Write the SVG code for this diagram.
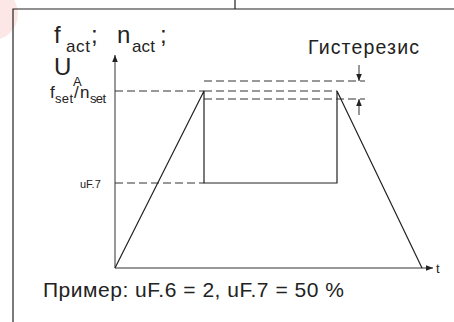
<svg xmlns="http://www.w3.org/2000/svg" width="454" height="322" viewBox="0 0 454 322">
<defs>
<style>
.ln{stroke:#222;stroke-width:1.2;fill:none}
.ax{stroke:#333;stroke-width:1;fill:none}
.da{stroke:#333;stroke-width:1;fill:none;stroke-dasharray:8 4}
.tx{font-family:"Liberation Sans",Arial,sans-serif;fill:#222}
</style>
<marker id="ah" viewBox="0 0 10 10" refX="10" refY="5" markerWidth="7" markerHeight="7" markerUnits="userSpaceOnUse" orient="auto">
<path d="M0,1 L10,5 L0,9 z" fill="#222"/>
</marker>
</defs>
<rect width="454" height="322" fill="#fff"/>
<circle cx="-8" cy="14" r="26" fill="#fde6e6"/>
<g id="frame">
<path class="ln" d="M13,322 V9 H454 M235,0 V9"/>
</g>
<g id="axes">
<line class="ax" x1="115" y1="268" x2="115" y2="55" marker-end="url(#ah)"/>
<line class="ax" x1="115" y1="268" x2="433" y2="268" marker-end="url(#ah)"/>
</g>
<g id="connectors">
<path class="da" d="M115,91 H204"/>
<path class="da" d="M204,91 H337"/>
<path class="da" d="M115,183 H204"/>
<path class="da" d="M204,81 H365"/>
<path class="da" d="M204,99 H365"/>
<path class="ln" d="M115,268 L204,91 V183 H337 V91 L422,268"/>
<line class="ax" x1="359" y1="65" x2="359" y2="81" marker-end="url(#ah)"/>
<line class="ax" x1="359" y1="115" x2="359" y2="99" marker-end="url(#ah)"/>
</g>
<g id="labels">
<text class="tx" font-size="24"><tspan x="54" y="43">f</tspan><tspan x="66" y="52" font-size="17" textLength="24" lengthAdjust="spacing">act</tspan><tspan x="91" y="43">;</tspan></text>
<text class="tx" font-size="24"><tspan x="117" y="43">n</tspan><tspan x="132" y="52" font-size="17" textLength="23" lengthAdjust="spacing">act</tspan><tspan x="160" y="43">;</tspan></text>
<text class="tx" font-size="24"><tspan x="54" y="75">U</tspan><tspan x="73" y="86" font-size="13">A</tspan></text>
<text class="tx" font-size="17"><tspan x="50" y="98">f</tspan><tspan x="55" y="103" font-size="13" textLength="18" lengthAdjust="spacing">set</tspan><tspan x="74" y="98">/</tspan><tspan x="80" y="98">n</tspan><tspan x="90" y="103" font-size="13" textLength="16" lengthAdjust="spacing">set</tspan></text>
<text class="tx" x="80" y="188" font-size="11">uF.7</text>
<text class="tx" x="308" y="54" font-size="19.5" textLength="111" lengthAdjust="spacing">Гистерезис</text>
<text class="tx" x="436" y="273" font-size="13">t</text>
<text class="tx" x="43" y="297" font-size="21" textLength="301" lengthAdjust="spacing">Пример: uF.6 = 2, uF.7 = 50 %</text>
</g>
</svg>
